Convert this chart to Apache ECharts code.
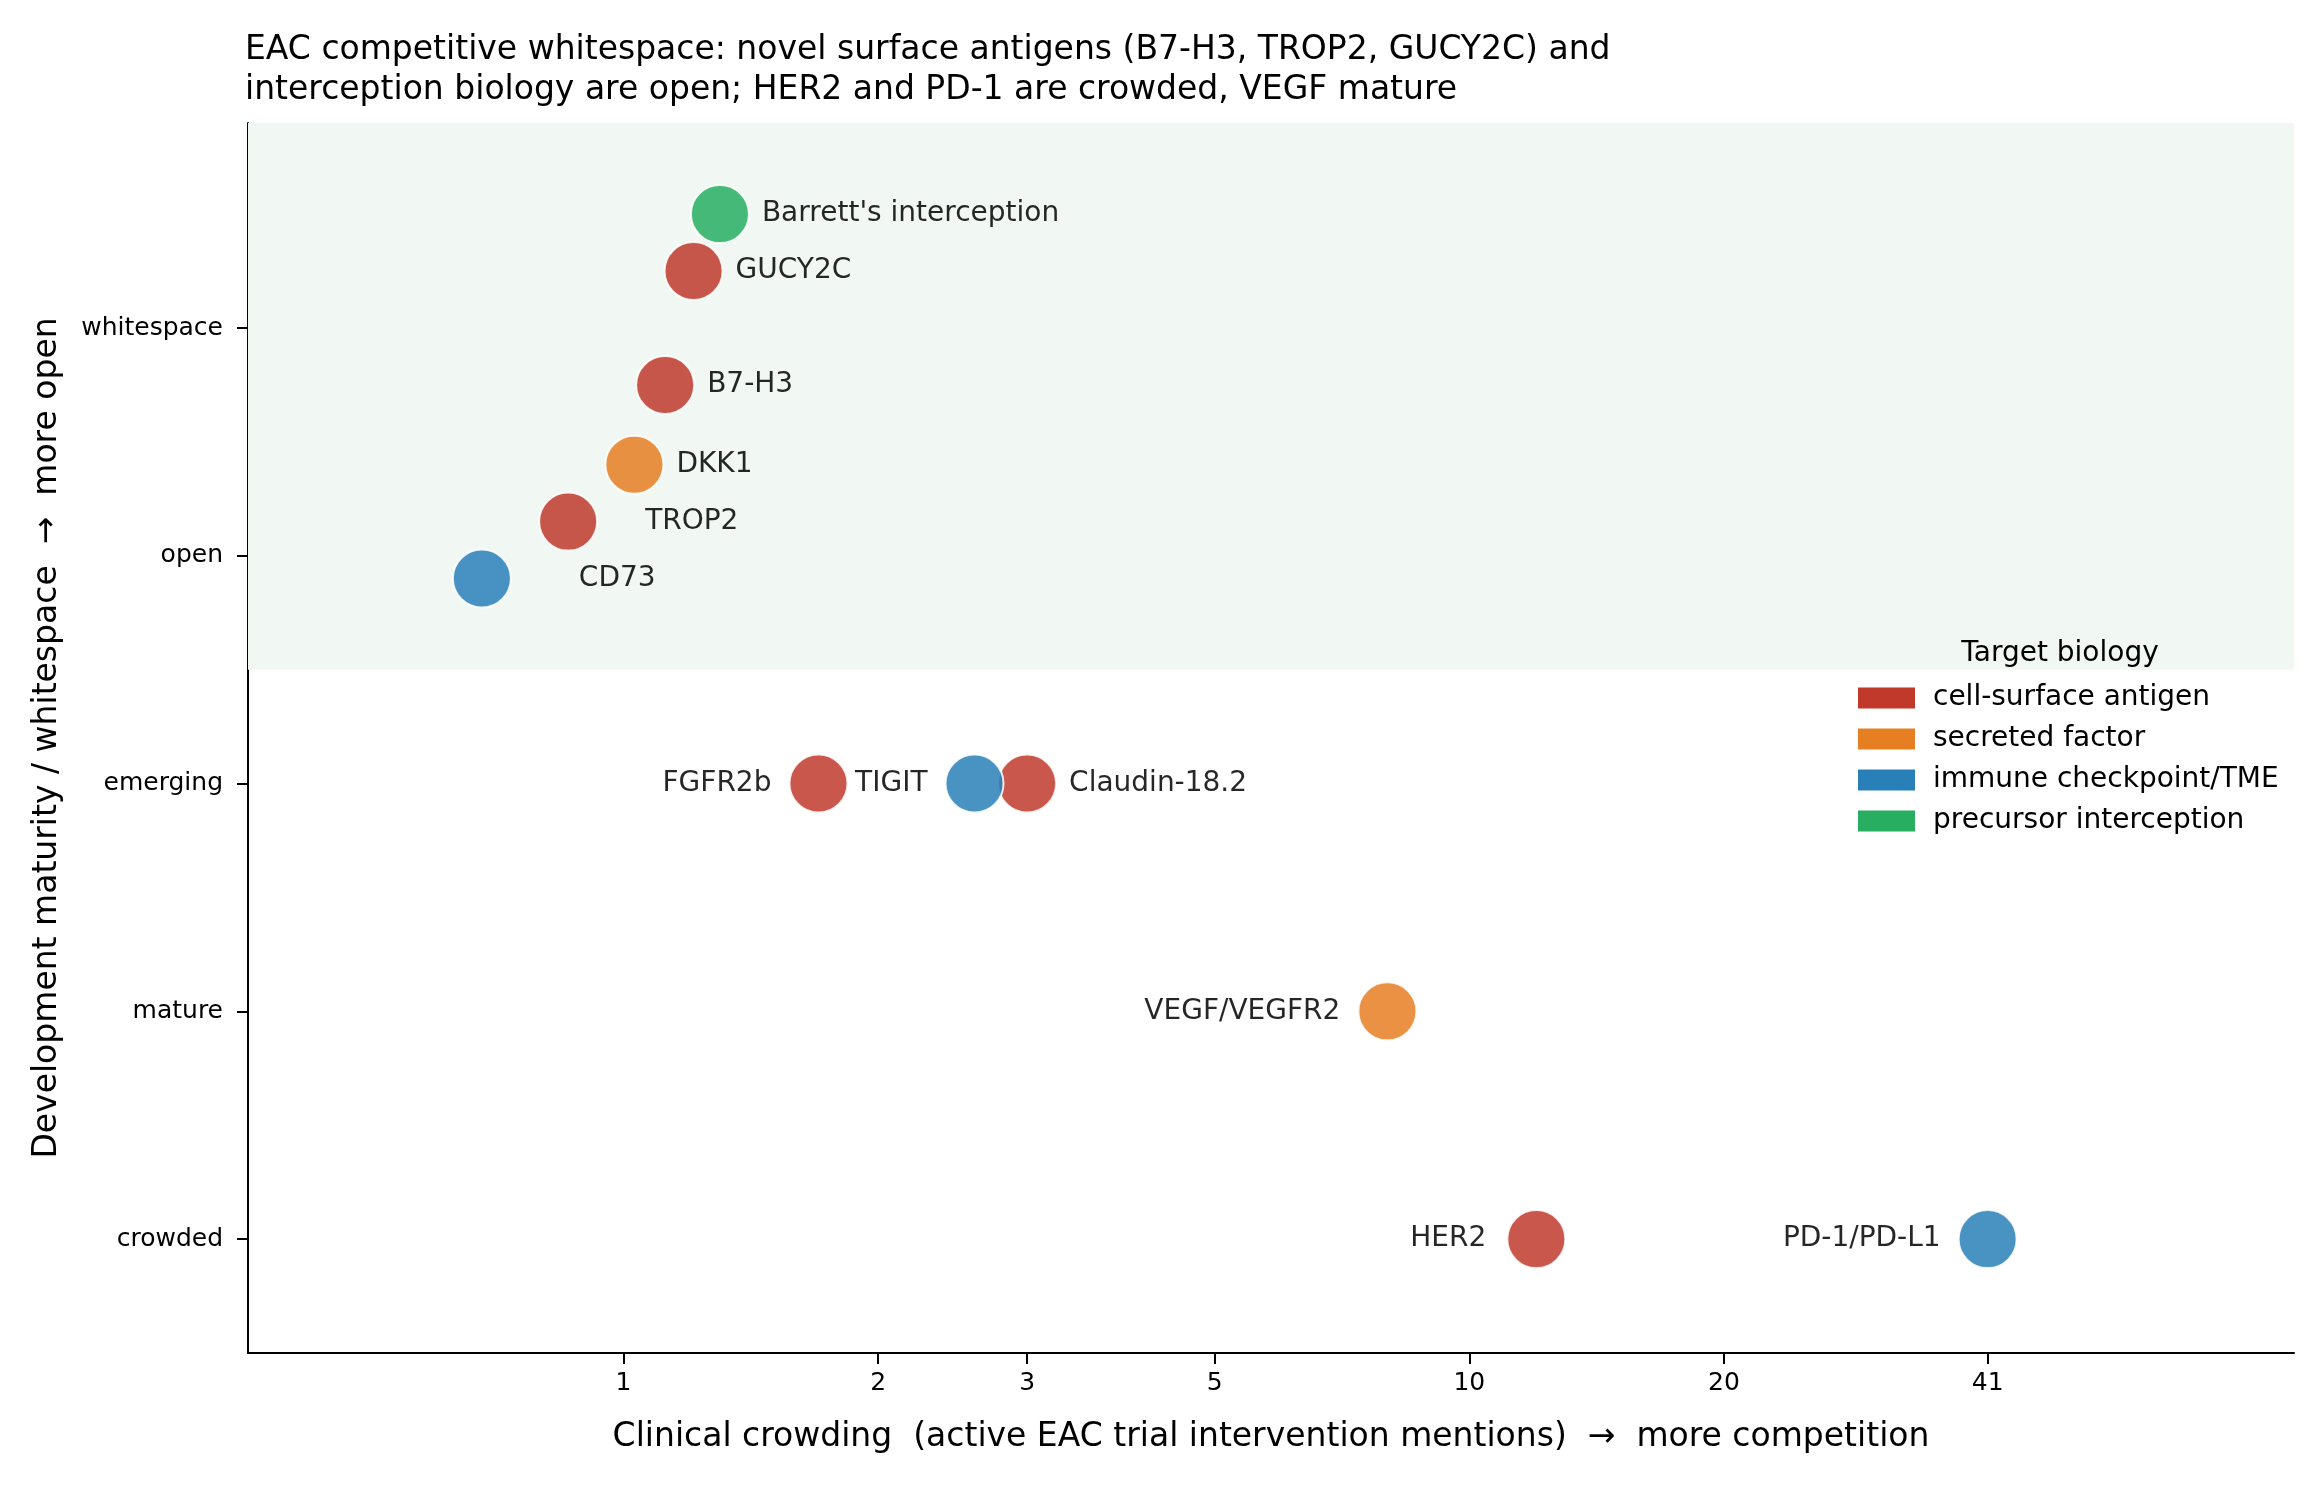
<!DOCTYPE html>
<html>
<head>
    <meta charset="utf-8"/>
    <title>EAC whitespace</title>
    <script src="https://cdn.jsdelivr.net/npm/echarts@6/dist/echarts.min.js"></script>
    <style>
        body { margin: 0; background: #fff; }
    </style>
</head>
<body>
<div id="main" style="width: 2324px;height:1487px;"></div>
<script type="text/javascript">
    // targets
    var names    = ["Barrett's interception", 'GUCY2C', 'B7-H3', 'DKK1', 'TROP2', 'CD73',
                    'FGFR2b', 'TIGIT', 'Claudin-18.2', 'VEGF/VEGFR2', 'HER2', 'PD-1/PD-L1'];
    var mentions = [1.30, 1.21, 1.12, 1.03, 0.86, 0.68, 1.70, 2.60, 3.0, 8.0, 12, 41];
    var maturity = [4.50, 4.25, 3.75, 3.40, 3.15, 2.90, 2, 2, 2, 1, 0, 0];
    var biology  = ['precursor interception', 'cell-surface antigen', 'cell-surface antigen',
                    'secreted factor', 'cell-surface antigen', 'immune checkpoint/TME',
                    'cell-surface antigen', 'immune checkpoint/TME', 'cell-surface antigen',
                    'secreted factor', 'cell-surface antigen', 'immune checkpoint/TME'];

    var groups = ['cell-surface antigen', 'secreted factor', 'immune checkpoint/TME', 'precursor interception'];
    var groupColors = ['#c0392b', '#e67e22', '#2980b9', '#27ae60'];
    var maturityLabels = ['crowded', 'mature', 'emerging', 'open', 'whitespace'];
    var xTicks = [1, 2, 3, 5, 10, 20, 41];

    // label placement (left of the dot for a few, pushed out for two)
    var labelSide = { 'FGFR2b': 'left', 'TIGIT': 'left', 'VEGF/VEGFR2': 'left', 'HER2': 'left', 'PD-1/PD-L1': 'left' };
    var labelDist = { 'TROP2': 47, 'CD73': 67, 'HER2': 20 };

    var font = 'DejaVu Sans';
    var myChart = echarts.init(document.getElementById('main'));

    var series = [{
        // shaded "open / whitespace" band
        type: 'line',
        data: [],
        z: 1,
        markArea: {
            silent: true,
            itemStyle: { color: '#f1f8f3' },
            data: [[{ yAxis: 2.5 }, { yAxis: 4.9 }]]
        }
    }];

    groups.forEach(function (g, gi) {
        var pts = [];
        for (var i = 0; i < names.length; i++) {
            if (biology[i] !== g) continue;
            var side = labelSide[names[i]] || 'right';
            var dist = labelDist[names[i]] || (side === 'left' ? 17 : 12);
            pts.push({
                name: names[i],
                value: [Math.log10(mentions[i]), maturity[i]],
                label: { position: side, distance: dist }
            });
        }
        series.push({
            name: g,
            type: 'scatter',
            z: 3,
            symbol: 'circle',
            symbolSize: 58,
            itemStyle: { color: groupColors[gi], opacity: 0.85, borderColor: '#ffffff', borderWidth: 2 },
            label: {
                show: true,
                formatter: '{b}',
                color: '#000',
                fontFamily: font,
                fontSize: 28
            },
            emphasis: { disabled: true },
            data: pts
        });
    });

    var option = {
        animation: false,
        backgroundColor: '#ffffff',
        title: {
            text: 'EAC competitive whitespace: novel surface antigens (B7-H3, TROP2, GUCY2C) and\ninterception biology are open; HER2 and PD-1 are crowded, VEGF mature',
            left: 240,
            top: 25,
            textStyle: { fontFamily: font, fontSize: 33, fontWeight: 'normal', color: '#000', lineHeight: 40 }
        },
        graphic: [{
            type: 'text',
            z: 100,
            x: 2060,
            y: 654,
            style: { text: 'Target biology', fill: '#000', font: '28px "DejaVu Sans"', align: 'center', verticalAlign: 'middle' }
        }],
        legend: {
            data: groups,
            orient: 'vertical',
            left: 1853,
            top: 679,
            icon: 'rect',
            itemWidth: 57,
            itemHeight: 21,
            itemGap: 13,
            itemStyle: { opacity: 1, borderWidth: 0 },
            textStyle: { fontFamily: font, fontSize: 28, lineHeight: 28, color: '#000', padding: [0, 0, 0, 13] }
        },
        grid: { left: 248, right: 30, top: 123, bottom: 134 },
        xAxis: {
            type: 'value',
            min: -0.444,
            max: 1.975,
            name: 'Clinical crowding  (active EAC trial intervention mentions)  \u2192  more competition',
            nameLocation: 'middle',
            nameGap: 68,
            nameTextStyle: { fontFamily: font, fontSize: 33, color: '#000' },
            splitLine: { show: false },
            axisLine: { onZero: false, lineStyle: { color: '#000', width: 2 } },
            axisTick: {
                length: 11,
                lineStyle: { color: '#000', width: 2 },
                customValues: xTicks.map(function (v) { return Math.log10(v); })
            },
            axisLabel: {
                fontFamily: font,
                fontSize: 25,
                color: '#000',
                margin: 18,
                customValues: xTicks.map(function (v) { return Math.log10(v); }),
                formatter: function (v) { return String(Math.round(Math.pow(10, v))); }
            }
        },
        yAxis: {
            type: 'value',
            min: -0.5,
            max: 4.9,
            name: 'Development maturity / whitespace  \u2192  more open',
            nameLocation: 'middle',
            nameGap: 184,
            nameTextStyle: { fontFamily: font, fontSize: 33, color: '#000' },
            splitLine: { show: false },
            axisLine: { show: true, onZero: false, lineStyle: { color: '#000', width: 2 } },
            axisTick: {
                show: true,
                length: 11,
                lineStyle: { color: '#000', width: 2 },
                customValues: [0, 1, 2, 3, 4]
            },
            axisLabel: {
                fontFamily: font,
                fontSize: 25,
                color: '#000',
                margin: 25,
                customValues: [0, 1, 2, 3, 4],
                formatter: function (v) { return maturityLabels[Math.round(v)]; }
            }
        },
        series: series
    };

    myChart.setOption(option);
</script>
</body>
</html>
